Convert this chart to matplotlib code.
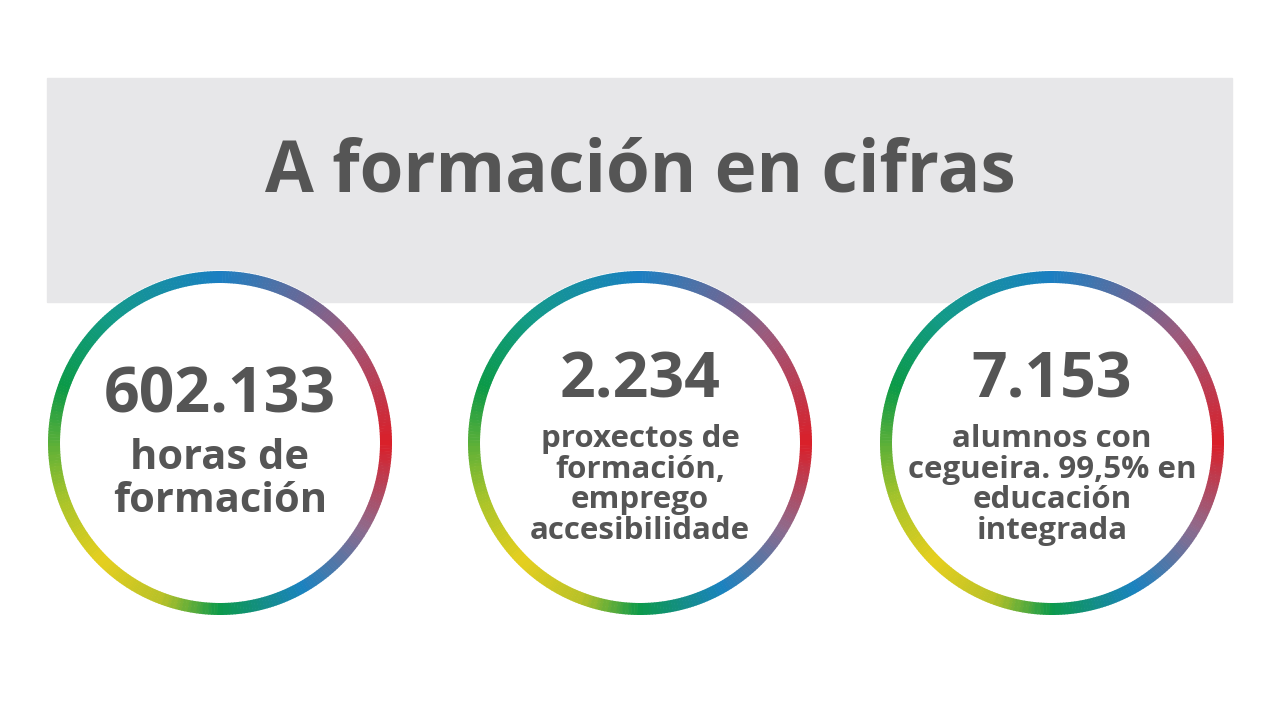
import numpy as np
import matplotlib
matplotlib.use("Agg")
import matplotlib.pyplot as plt
from matplotlib.patches import Rectangle, Circle, Wedge
from matplotlib.colors import LinearSegmentedColormap

title = "A formación en cifras"
figures = ["602.133", "2.234", "7.153"]
captions = ["horas de\nformación",
            "proxectos de\nformación,\nemprego\naccesibilidade",
            "alumnos con\ncegueira. 99,5% en\neducación\nintegrada"]
caption_sizes = [30, 22.5, 22.5]
centers_x = [220, 640, 1052]

stops = [(0, "#d9202a"), (40, "#9c5a7c"), (90, "#1a7fc2"), (130, "#139a8a"),
         (160, "#0b9a48"), (200, "#a8c42a"), (225, "#e6cf1e"), (250, "#b8c128"),
         (270, "#0c9a4a"), (300, "#1a82c0"), (330, "#8f6a8c"), (360, "#d9202a")]
cmap = LinearSegmentedColormap.from_list("ring", [(a / 360, c) for a, c in stops])

fig = plt.figure(figsize=(12.8, 7.2), dpi=100)
ax = fig.add_axes([0, 0, 1, 1])
ax.set_xlim(0, 1280)
ax.set_ylim(720, 0)
ax.axis("off")
ax.set_aspect("equal")

ax.add_patch(Rectangle((47, 78), 1185, 224, color="#e7e7e9", zorder=1))
ax.text(640, 172, title, ha="center", va="center", fontsize=51,
        fontweight="bold", family="Open Sans", color="#555555", zorder=5)

R, W, cy = 172, 12, 443
for cx, num, cap, cs in zip(centers_x, figures, captions, caption_sizes):
    ax.add_patch(Circle((cx, cy), R, color="white", zorder=2))
    n = 360
    for i in range(n):
        a0 = i * 360 / n
        ax.add_patch(Wedge((cx, cy), R, -(a0 + 1.2), -a0, width=W,
                           color=cmap((a0 + 0.5) / 360), lw=0, zorder=3))
    nlines = cap.count("\n") + 1
    if nlines == 2:
        ax.text(cx, 396, num, ha="center", va="center", fontsize=45,
                fontweight="bold", family="Open Sans", color="#555555", zorder=5)
        ax.text(cx, 480, cap, ha="center", va="center", fontsize=cs,
                fontweight="bold", family="Open Sans", color="#555555",
                linespacing=1.05, zorder=5)
    else:
        ax.text(cx, 381, num, ha="center", va="center", fontsize=45,
                fontweight="bold", family="Open Sans", color="#555555", zorder=5)
        ax.text(cx, 485, cap, ha="center", va="center", fontsize=cs,
                fontweight="bold", family="Open Sans", color="#555555",
                linespacing=1.02, zorder=5)

fig.savefig("out.png", dpi=100, facecolor="white")
